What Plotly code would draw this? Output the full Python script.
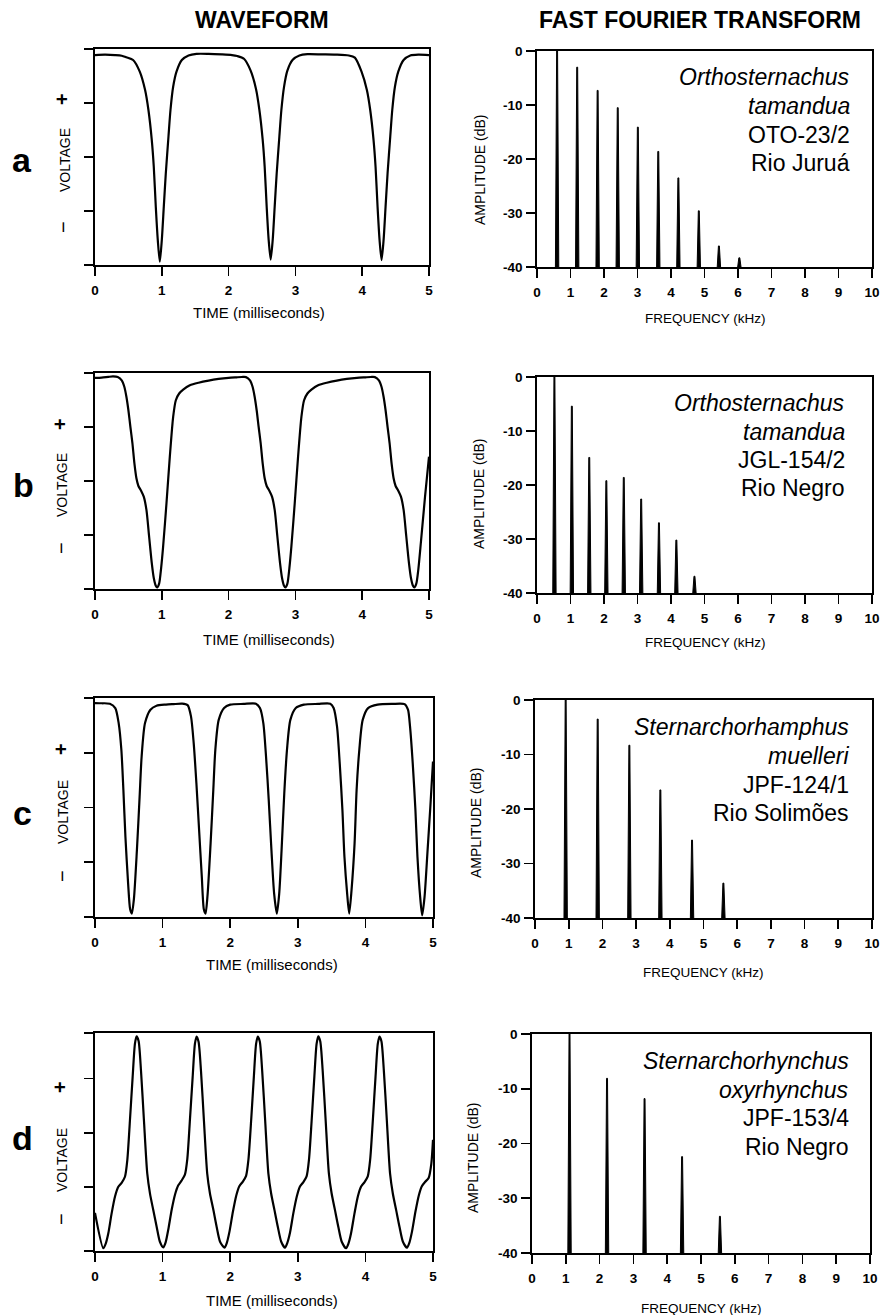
import plotly.graph_objects as go

W, H = 882, 1315
FONT = "Liberation Sans, Arial, Helvetica, sans-serif"

# ---------------- waveform data (time in ms, relative voltage -1..1) ----------------
wave_a_t = [0, 0.15, 0.30, 0.40, 0.47, 0.57, 0.67, 0.75, 0.80, 0.85,
            0.88, 0.91, 0.94, 0.97, 1.00, 1.03, 1.06, 1.10, 1.13, 1.17,
            1.22, 1.30, 1.40, 1.52, 1.70, 1.90, 2.05, 2.13, 2.23, 2.33,
            2.41, 2.46, 2.51, 2.54, 2.57, 2.60, 2.63, 2.66, 2.69, 2.72,
            2.76, 2.79, 2.83, 2.88, 2.96, 3.06, 3.18, 3.40, 3.60, 3.80,
            3.89, 3.99, 4.07, 4.12, 4.17, 4.20, 4.23, 4.26, 4.29, 4.32,
            4.35, 4.38, 4.42, 4.45, 4.49, 4.54, 4.62, 4.72, 4.84, 5.0]
wave_a_v = [0.944, 0.948, 0.944, 0.938, 0.923, 0.898, 0.79, 0.62, 0.435, 0.157,
            -0.09, -0.46, -0.77, -0.97, -0.77, -0.46, -0.15, 0.19, 0.435, 0.65,
            0.79, 0.898, 0.94, 0.955, 0.955, 0.95, 0.944, 0.935, 0.91, 0.80,
            0.63, 0.44, 0.16, -0.09, -0.46, -0.77, -0.95, -0.77, -0.46, -0.15,
            0.19, 0.435, 0.65, 0.80, 0.90, 0.94, 0.952, 0.95, 0.948, 0.94,
            0.92, 0.79, 0.62, 0.435, 0.157, -0.09, -0.46, -0.77, -0.955, -0.77,
            -0.46, -0.15, 0.19, 0.435, 0.65, 0.79, 0.898, 0.94, 0.948, 0.944]

wave_b_t = [0, 0.10, 0.20, 0.27, 0.34, 0.40, 0.44, 0.47, 0.50, 0.53,
            0.56, 0.59, 0.62, 0.65, 0.69, 0.73, 0.77, 0.81, 0.85, 0.88,
            0.91, 0.93, 0.96, 0.99, 1.02, 1.07, 1.12, 1.17, 1.21, 1.26,
            1.32, 1.42, 1.55, 1.70, 1.85, 2.00, 2.12, 2.20, 2.26, 2.32,
            2.36, 2.39, 2.42, 2.45, 2.48, 2.51, 2.54, 2.57, 2.61, 2.65,
            2.69, 2.73, 2.77, 2.80, 2.83, 2.85, 2.88, 2.91, 2.94, 2.99,
            3.04, 3.09, 3.13, 3.18, 3.24, 3.34, 3.47, 3.62, 3.77, 3.92,
            4.05, 4.13, 4.19, 4.25, 4.29, 4.32, 4.35, 4.38, 4.41, 4.44,
            4.47, 4.50, 4.54, 4.58, 4.62, 4.66, 4.70, 4.73, 4.76, 4.78,
            4.81, 4.84, 4.88, 4.94, 5.0]
wave_b_v = [0.954, 0.957, 0.964, 0.968, 0.962, 0.932, 0.87, 0.78, 0.655, 0.50,
            0.35, 0.163, 0.025, -0.046, -0.09, -0.145, -0.268, -0.514, -0.76, -0.898,
            -0.97, -0.985, -0.95, -0.806, -0.606, -0.206, 0.225, 0.594, 0.748, 0.81,
            0.846, 0.886, 0.91, 0.93, 0.945, 0.955, 0.96, 0.963, 0.962, 0.932,
            0.87, 0.78, 0.655, 0.50, 0.35, 0.163, 0.025, -0.046, -0.09, -0.145,
            -0.268, -0.514, -0.76, -0.898, -0.97, -0.985, -0.95, -0.806, -0.606, -0.206,
            0.225, 0.594, 0.748, 0.81, 0.846, 0.886, 0.91, 0.93, 0.945, 0.955,
            0.96, 0.963, 0.962, 0.932, 0.87, 0.78, 0.655, 0.50, 0.35, 0.163,
            0.025, -0.046, -0.09, -0.145, -0.268, -0.514, -0.76, -0.898, -0.97, -0.985,
            -0.95, -0.82, -0.56, -0.15, 0.225]

wave_c_t = [0, 0.10, 0.22, 0.30, 0.35, 0.39, 0.42, 0.45, 0.49, 0.52,
            0.545, 0.575, 0.62, 0.66, 0.69, 0.74, 0.82, 0.91, 1.05, 1.16,
            1.29, 1.37, 1.42, 1.46, 1.50, 1.54, 1.58, 1.61, 1.635, 1.665,
            1.71, 1.75, 1.78, 1.83, 1.91, 2.00, 2.20, 2.38, 2.44, 2.49,
            2.53, 2.57, 2.61, 2.65, 2.69, 2.725, 2.76, 2.80, 2.84, 2.89,
            2.97, 3.09, 3.30, 3.48, 3.53, 3.58, 3.62, 3.66, 3.69, 3.73,
            3.76, 3.795, 3.84, 3.87, 3.91, 3.96, 4.04, 4.18, 4.40, 4.58,
            4.63, 4.66, 4.70, 4.74, 4.77, 4.81, 4.84, 4.875, 4.92, 4.96,
            5.0]
wave_c_v = [0.954, 0.952, 0.948, 0.908, 0.771, 0.527, 0.16, -0.267, -0.695, -0.93,
            -0.969, -0.84, -0.389, 0.099, 0.466, 0.771, 0.893, 0.93, 0.94, 0.944,
            0.948, 0.935, 0.832, 0.588, 0.221, -0.206, -0.634, -0.93, -0.969, -0.80,
            -0.328, 0.16, 0.527, 0.80, 0.908, 0.939, 0.946, 0.948, 0.908, 0.771,
            0.466, 0.069, -0.389, -0.786, -0.969, -0.786, -0.389, 0.13, 0.527, 0.80,
            0.908, 0.939, 0.946, 0.948, 0.908, 0.74, 0.405, -0.023, -0.45, -0.786,
            -0.969, -0.754, -0.328, 0.16, 0.527, 0.80, 0.908, 0.939, 0.946, 0.944,
            0.893, 0.74, 0.405, -0.023, -0.45, -0.817, -0.985, -0.817, -0.389, 0.0,
            0.42]

wave_d_t = [0,
            0.123, 0.16, 0.197, 0.246, 0.296, 0.345, 0.394, 0.443, 0.478, 0.517,
            0.557, 0.591, 0.616, 0.645, 0.68, 0.724, 0.773, 0.813, 0.862, 0.912, 0.96,
            1.01, 1.045, 1.085, 1.135, 1.185, 1.23, 1.28, 1.33, 1.365, 1.405,
            1.445, 1.478, 1.503, 1.532, 1.568, 1.612, 1.66, 1.70, 1.75, 1.80, 1.85,
            1.915, 1.95, 1.99, 2.04, 2.09, 2.135, 2.185, 2.235, 2.27, 2.31,
            2.35, 2.383, 2.408, 2.437, 2.473, 2.517, 2.565, 2.605, 2.655, 2.705, 2.755,
            2.81, 2.845, 2.885, 2.935, 2.985, 3.03, 3.08, 3.13, 3.165, 3.205,
            3.245, 3.278, 3.303, 3.332, 3.368, 3.412, 3.46, 3.50, 3.55, 3.60, 3.65,
            3.715, 3.75, 3.79, 3.84, 3.89, 3.935, 3.985, 4.035, 4.07, 4.11,
            4.15, 4.183, 4.208, 4.237, 4.273, 4.317, 4.365, 4.405, 4.455, 4.505, 4.555,
            4.615, 4.65, 4.69, 4.74, 4.79, 4.835, 4.885, 4.935, 4.975, 5.0]
wave_d_v = [-0.65,
            -0.975, -0.93, -0.838, -0.655, -0.50, -0.411, -0.374, -0.319, -0.166, 0.20,
            0.597, 0.903, 0.97, 0.927, 0.658, 0.20, -0.288, -0.471, -0.624, -0.777, -0.915,
            -0.966, -0.92, -0.80, -0.62, -0.48, -0.40, -0.355, -0.30, -0.16, 0.21,
            0.60, 0.90, 0.968, 0.92, 0.65, 0.19, -0.29, -0.47, -0.62, -0.78, -0.915,
            -0.97, -0.925, -0.82, -0.64, -0.49, -0.405, -0.365, -0.31, -0.16, 0.20,
            0.60, 0.90, 0.968, 0.925, 0.655, 0.20, -0.29, -0.47, -0.625, -0.78, -0.915,
            -0.97, -0.925, -0.83, -0.65, -0.50, -0.41, -0.37, -0.315, -0.165, 0.20,
            0.60, 0.90, 0.97, 0.925, 0.655, 0.20, -0.29, -0.47, -0.625, -0.78, -0.915,
            -0.975, -0.93, -0.83, -0.65, -0.495, -0.41, -0.37, -0.315, -0.165, 0.20,
            0.60, 0.90, 0.968, 0.925, 0.655, 0.20, -0.29, -0.47, -0.625, -0.78, -0.915,
            -0.97, -0.925, -0.82, -0.64, -0.49, -0.405, -0.365, -0.33, -0.20, 0.02]

# ---------------- FFT data (harmonic frequency kHz, amplitude dB) ----------------
fft_a_khz = [0.60, 1.20, 1.81, 2.41, 3.01, 3.62, 4.22, 4.83, 5.43, 6.04]
fft_a_db = [0, -3.0, -7.3, -10.5, -14.1, -18.6, -23.5, -29.6, -36.1, -38.3]
fft_b_khz = [0.52, 1.04, 1.56, 2.07, 2.59, 3.11, 3.64, 4.16, 4.70]
fft_b_db = [0, -5.4, -14.9, -19.2, -18.6, -22.6, -27.0, -30.2, -36.9]
fft_c_khz = [0.91, 1.86, 2.80, 3.72, 4.66, 5.59]
fft_c_db = [0, -3.5, -8.3, -16.5, -25.7, -33.6]
fft_d_khz = [1.11, 2.22, 3.33, 4.44, 5.56]
fft_d_db = [0, -8.1, -11.8, -22.4, -33.3]

panel_letters = ["a", "b", "c", "d"]
species = [["Orthosternachus", "tamandua", "OTO-23/2", "Rio Juruá"],
           ["Orthosternachus", "tamandua", "JGL-154/2", "Rio Negro"],
           ["Sternarchorhamphus", "muelleri", "JPF-124/1", "Rio Solimões"],
           ["Sternarchorhynchus", "oxyrhynchus", "JPF-153/4", "Rio Negro"]]
time_ticks = [0, 1, 2, 3, 4, 5]
freq_ticks = list(range(0, 11))
db_ticks = [0, -10, -20, -30, -40]
db_tick_text = ["0", "-10", "-20", "-30", "-40"]

# ---------------- layout geometry (pixels) ----------------
wave_boxes = [(95, 429, 49, 265), (95, 429, 373, 589), (95, 433, 698, 917), (95, 433, 1033, 1251)]
fft_boxes = [(537, 872, 51, 267), (537, 872, 377, 593), (535, 872, 700, 918), (532, 870, 1034, 1253)]
wave_yticks = [[-1, -0.5, 0, 0.5, 1], [-1, -0.5, 0, 0.5, 1], [-1, -0.5, 0, 0.5, 1],
               [-1, -0.411, 0.084, 0.582, 1]]

letter_pos = [(22, 160), (23, 485), (22, 813), (22, 1138)]
voltage_pos = [(65, 160), (62, 485), (63, 812), (62, 1160)]
plus_pos = [(62, 99), (60, 424), (61, 749), (60, 1087)]
minus_pos = [(63, 227), (61, 548), (62, 876), (61, 1219)]
time_title_pos = [(259, 312), (269, 639), (272, 964), (272, 1300)]
amp_pos = [(480, 170), (479, 494), (476, 823), (473, 1158)]
freq_title_pos = [(705, 318), (705, 642), (703, 972), (701, 1308)]
species_right = [852, 847, 851, 851]
species_lines_y = [[77, 106, 135, 163], [403, 432, 460, 488], [727, 756, 785, 813], [1061, 1090, 1118, 1147]]


def px(x):
    return x / W


def py(y):
    return 1 - y / H


waves = [(wave_a_t, wave_a_v), (wave_b_t, wave_b_v), (wave_c_t, wave_c_v), (wave_d_t, wave_d_v)]
ffts = [(fft_a_khz, fft_a_db), (fft_b_khz, fft_b_db), (fft_c_khz, fft_c_db), (fft_d_khz, fft_d_db)]

fig = go.Figure()
layout = dict(width=W, height=H, margin=dict(l=0, r=0, t=0, b=0, pad=0), autosize=False,
              paper_bgcolor="white", plot_bgcolor="white", showlegend=False,
              font=dict(family=FONT, color="black"))

axis_common = dict(showline=True, linecolor="black", linewidth=1.8, mirror=True,
                   ticks="outside", ticklen=9, tickwidth=1.6, tickcolor="black",
                   showgrid=False, zeroline=False, fixedrange=True, automargin=False)
tickfont = dict(family=FONT, size=13.5, color="black", weight="bold")

annotations = []
SPIKE_BASE = 0.05   # half width of a spike foot (kHz)
SPIKE_TOP = 0.014   # half width of a spike tip (kHz)

for i in range(4):
    # waveform panel
    xa = 2 * i + 1
    xname = "xaxis" if xa == 1 else f"xaxis{xa}"
    yname = "yaxis" if xa == 1 else f"yaxis{xa}"
    x0, x1, y0, y1 = wave_boxes[i]
    t, v = waves[i]
    fig.add_trace(go.Scatter(x=t, y=v, mode="lines",
                             line=dict(color="black", width=2.2, shape="spline", smoothing=0.7),
                             xaxis=f"x{'' if xa == 1 else xa}", yaxis=f"y{'' if xa == 1 else xa}",
                             hoverinfo="skip"))
    layout[xname] = dict(axis_common, domain=[px(x0), px(x1)], range=[0, 5],
                         tickvals=time_ticks, tickfont=tickfont, ticklabelstandoff=3,
                         anchor=f"y{'' if xa == 1 else xa}")
    layout[yname] = dict(axis_common, domain=[py(y1), py(y0)], range=[-1, 1],
                         tickvals=wave_yticks[i], showticklabels=False,
                         anchor=f"x{'' if xa == 1 else xa}")

    # FFT panel: each harmonic drawn as a narrow filled spike
    fa = 2 * i + 2
    fx0, fx1, fy0, fy1 = fft_boxes[i]
    freqs, dbs = ffts[i]
    sx, sy = [], []
    for f, a in zip(freqs, dbs):
        sx += [f - SPIKE_BASE, f - SPIKE_TOP, f + SPIKE_TOP, f + SPIKE_BASE, None]
        sy += [-40, a, a, -40, None]
    fig.add_trace(go.Scatter(x=sx, y=sy, mode="lines", fill="toself", fillcolor="black",
                             line=dict(color="black", width=1.0),
                             xaxis=f"x{fa}", yaxis=f"y{fa}", hoverinfo="skip"))
    layout[f"xaxis{fa}"] = dict(axis_common, domain=[px(fx0), px(fx1)], range=[0, 10],
                                tickvals=freq_ticks, tickfont=tickfont, ticklabelstandoff=3,
                                anchor=f"y{fa}")
    layout[f"yaxis{fa}"] = dict(axis_common, domain=[py(fy1), py(fy0)], range=[-40, 0],
                                tickvals=db_ticks, ticktext=db_tick_text, tickfont=tickfont,
                                ticklabelstandoff=1, anchor=f"x{fa}")

    # texts
    lx, ly = letter_pos[i]
    annotations.append(dict(text=panel_letters[i], x=px(lx), y=py(ly), xref="paper", yref="paper",
                            showarrow=False, xanchor="center", yanchor="middle",
                            font=dict(family=FONT, size=34, color="black", weight="bold")))
    vx, vy = voltage_pos[i]
    annotations.append(dict(text="VOLTAGE", x=px(vx), y=py(vy), xref="paper", yref="paper",
                            showarrow=False, textangle=-90, xanchor="center", yanchor="middle",
                            font=dict(family=FONT, size=14, color="black")))
    pxx, pyy = plus_pos[i]
    annotations.append(dict(text="+", x=px(pxx), y=py(pyy), xref="paper", yref="paper",
                            showarrow=False, textangle=-90, xanchor="center", yanchor="middle",
                            font=dict(family=FONT, size=20, color="black", weight="bold")))
    mx, my = minus_pos[i]
    annotations.append(dict(text="−", x=px(mx), y=py(my), xref="paper", yref="paper",
                            showarrow=False, textangle=-90, xanchor="center", yanchor="middle",
                            font=dict(family=FONT, size=20, color="black")))
    tx, ty = time_title_pos[i]
    annotations.append(dict(text="TIME (milliseconds)", x=px(tx), y=py(ty), xref="paper", yref="paper",
                            showarrow=False, xanchor="center", yanchor="middle",
                            font=dict(family=FONT, size=15, color="black")))
    ax_, ay_ = amp_pos[i]
    annotations.append(dict(text="AMPLITUDE (dB)", x=px(ax_), y=py(ay_), xref="paper", yref="paper",
                            showarrow=False, textangle=-90, xanchor="center", yanchor="middle",
                            font=dict(family=FONT, size=14, color="black")))
    fx_, fy_ = freq_title_pos[i]
    annotations.append(dict(text="FREQUENCY (kHz)", x=px(fx_), y=py(fy_), xref="paper", yref="paper",
                            showarrow=False, xanchor="center", yanchor="middle",
                            font=dict(family=FONT, size=13.5, color="black")))
    for j, line in enumerate(species[i]):
        annotations.append(dict(text=line, x=px(species_right[i]), y=py(species_lines_y[i][j]),
                                xref="paper", yref="paper", showarrow=False,
                                xanchor="right", yanchor="middle",
                                font=dict(family=FONT, size=23, color="black",
                                          style="italic" if j < 2 else "normal")))

annotations.append(dict(text="WAVEFORM", x=px(262), y=py(20), xref="paper", yref="paper",
                        showarrow=False, xanchor="center", yanchor="middle",
                        font=dict(family=FONT, size=23, color="black", weight="bold")))
annotations.append(dict(text="FAST FOURIER TRANSFORM", x=px(700), y=py(20), xref="paper", yref="paper",
                        showarrow=False, xanchor="center", yanchor="middle",
                        font=dict(family=FONT, size=23, color="black", weight="bold")))

layout["annotations"] = annotations
fig.update_layout(**layout)

# remove the default page margin so the figure sits exactly in the 882x1315 window
fig.write_html("out.html", config={"displayModeBar": False, "staticPlot": True},
               post_script="document.body.style.margin='0';document.body.style.padding='0';"
                           "document.body.style.overflow='hidden';")
